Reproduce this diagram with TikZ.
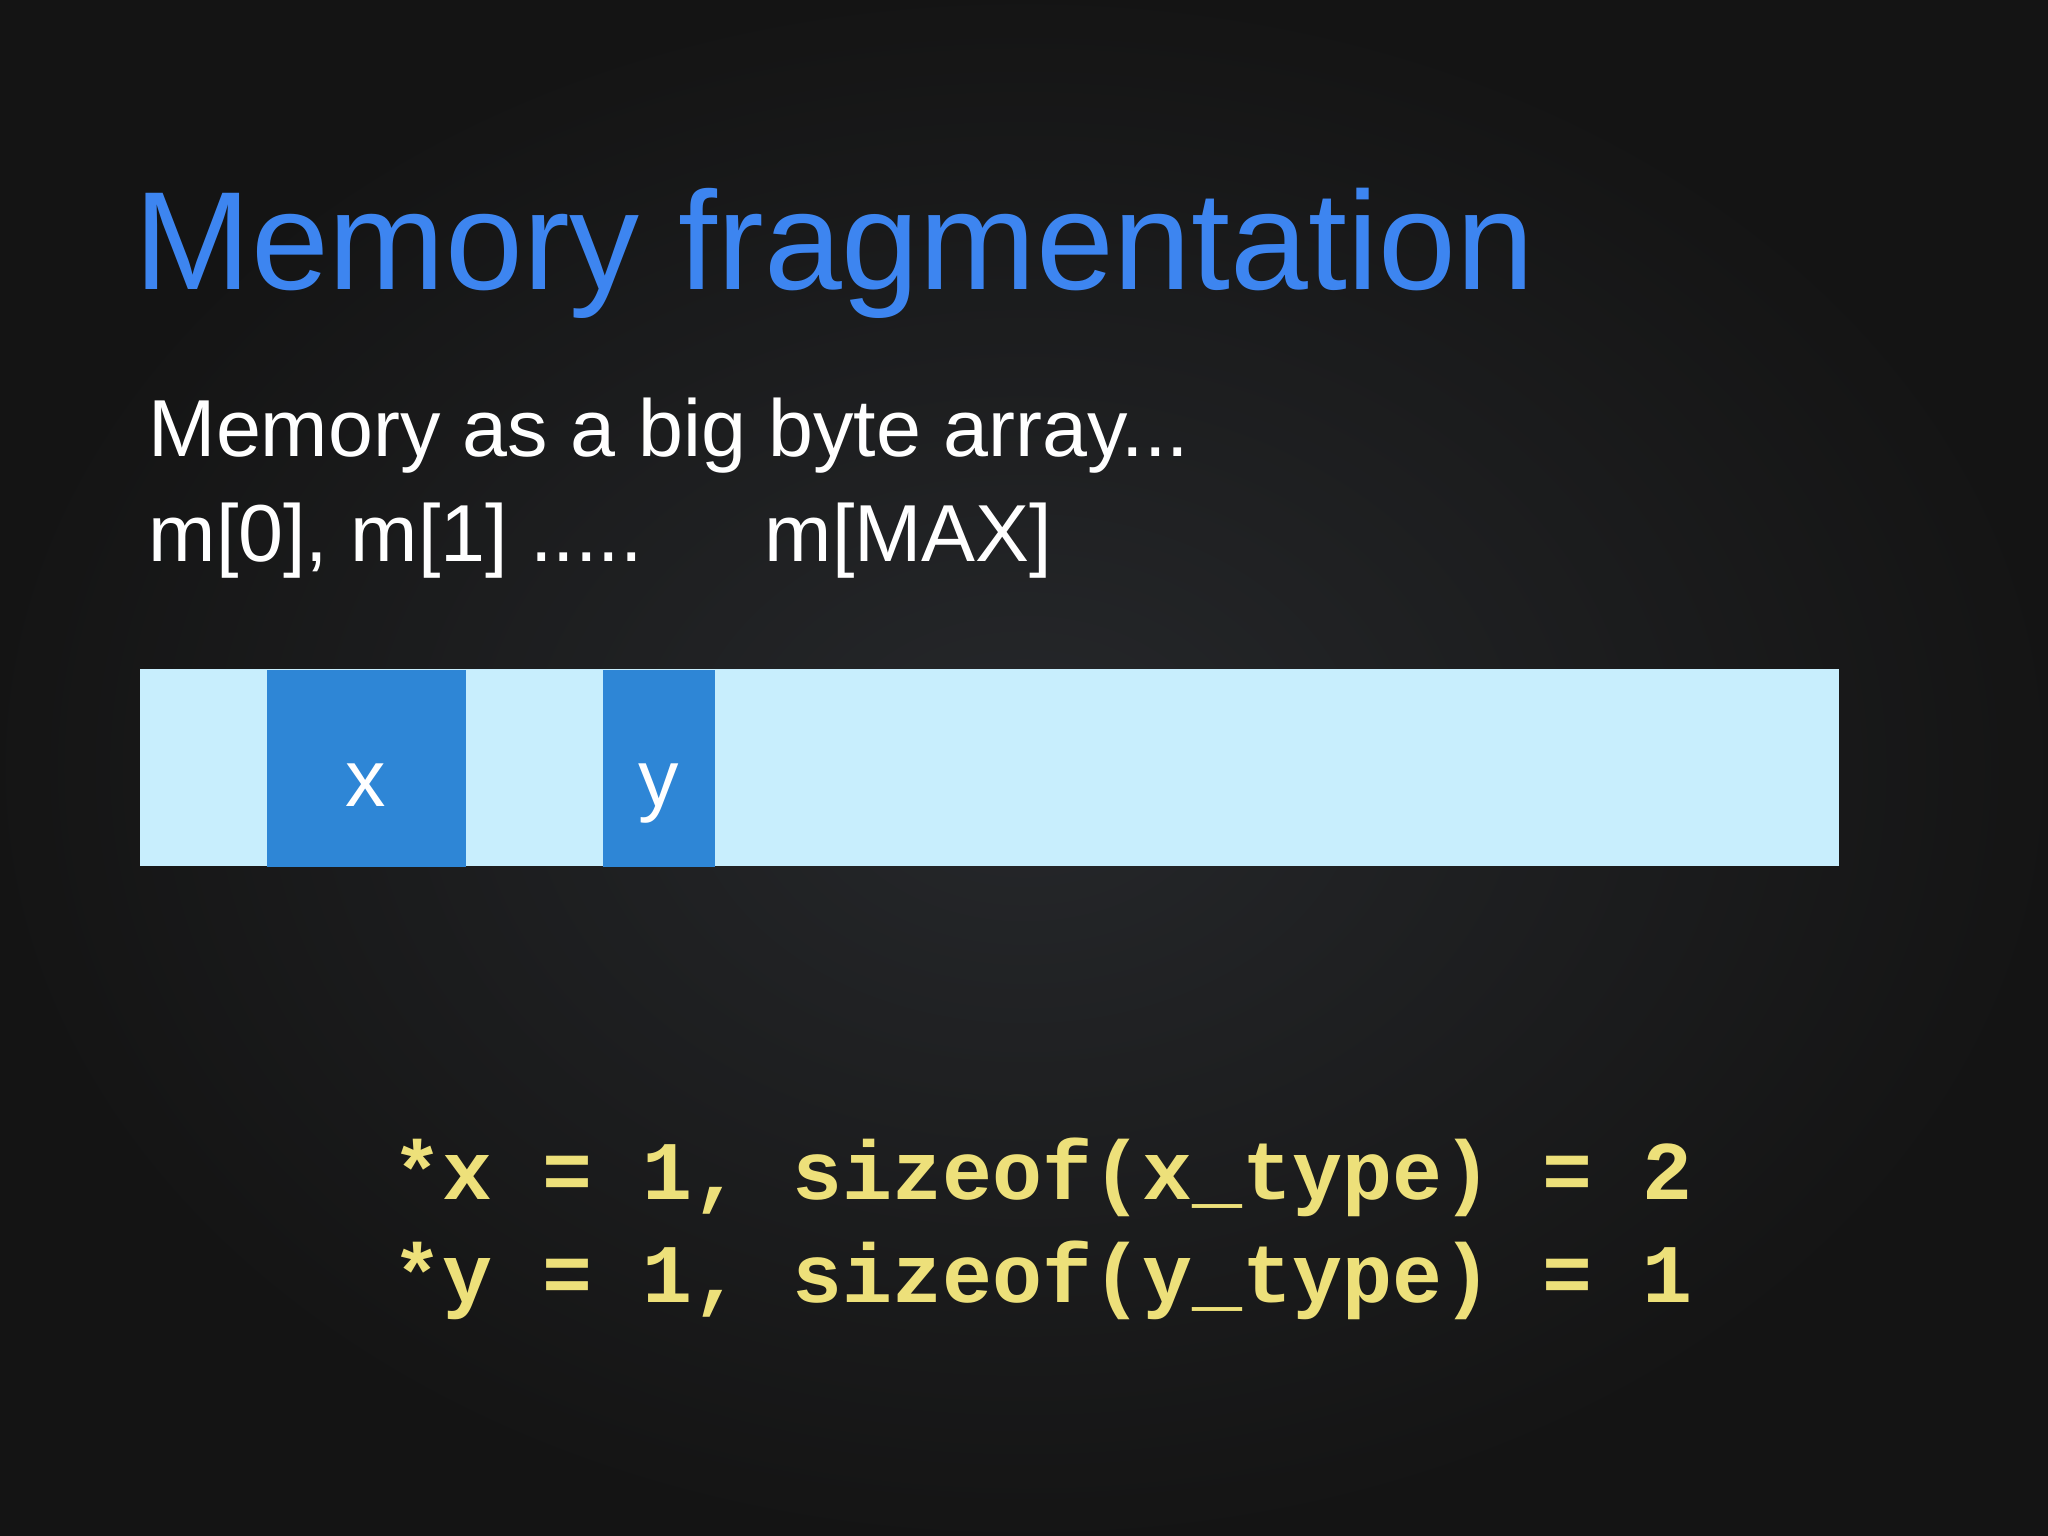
\documentclass[tikz,border=0pt]{standalone}
\usepackage{fontspec}
\setmainfont{Liberation Sans}
\newfontfamily\codefont{Liberation Mono}
\definecolor{titleblue}{HTML}{3D85F0}
\definecolor{barlight}{HTML}{C8EEFD}
\definecolor{blockblue}{HTML}{2E86D6}
\definecolor{codeyellow}{HTML}{EDE07A}
\definecolor{bgc}{HTML}{26282B}
\tikzset{
 bodytext/.style={anchor=base west,text=white,font=\fontsize{23}{27}\selectfont,inner sep=0},
 codetext/.style={anchor=base west,text=codeyellow,font=\codefont\bfseries\fontsize{23.7}{28}\selectfont,inner sep=0},
 block/.style={fill=blockblue,draw=none},
 blocklabel/.style={text=white,font=\fontsize{23}{27}\selectfont,inner sep=0},
}
\begin{document}
\begin{tikzpicture}[x=1cm,y=-1cm]
\useasboundingbox (0,0) rectangle (20.48,15.36);
\shade[inner color=bgc,outer color=black!92] (0,0) rectangle (20.48,15.36);
\node[anchor=base west,text=titleblue,font=\fontsize{39.8}{46}\selectfont,inner sep=0] (title) at (1.34,2.90) {Memory fragmentation};
\node[bodytext] (l1) at (1.48,4.57) {Memory as a big byte array...};
\node[bodytext] (l2) at (1.48,5.62) {m[0], m[1] .....};
\node[bodytext] (l3) at (7.64,5.62) {m[MAX]};
\fill[barlight] (1.40,6.69) rectangle (18.39,8.66);
\node[block,minimum width=1.99cm,minimum height=1.97cm,anchor=north west] (x) at (2.66,6.69) {};
\node[block,minimum width=1.12cm,minimum height=1.97cm,anchor=north west] (y) at (6.02,6.69) {};
\node[blocklabel,anchor=base] (xl) at ([yshift=-0.38cm]x.center) {x};
\node[blocklabel,anchor=base] (yl) at ([yshift=-0.38cm]y.center) {y};
\node[codetext] (c1) at (3.92,11.99) {*x = 1, sizeof(x\_type) = 2};
\node[codetext] (c2) at (3.92,13.02) {*y = 1, sizeof(y\_type) = 1};
\end{tikzpicture}
\end{document}
